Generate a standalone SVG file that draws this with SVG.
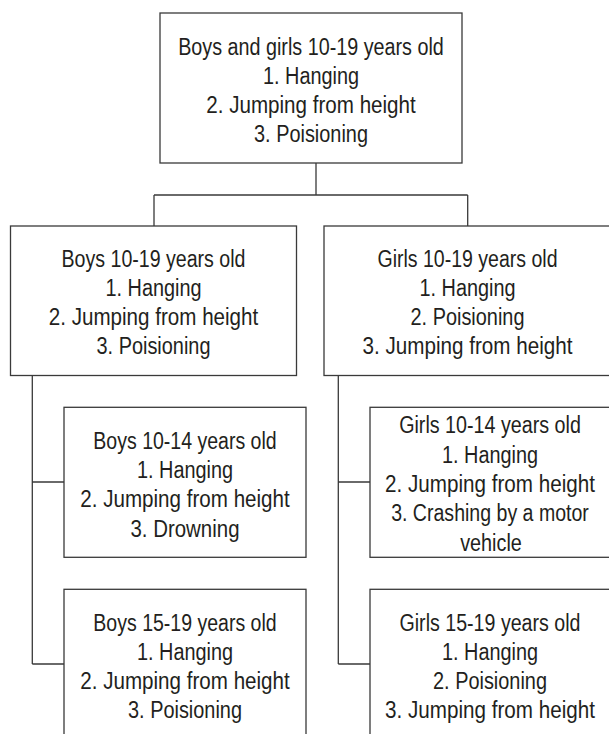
<svg xmlns="http://www.w3.org/2000/svg" width="609" height="734" viewBox="0 0 609 734">
<style>
.box{fill:#ffffff;stroke:#3a3a3a;stroke-width:1.3}
.con{fill:none;stroke:#3a3a3a;stroke-width:1.3}
text{font-family:"Liberation Sans",Arial,sans-serif;font-size:23px;fill:#231f20;text-anchor:middle}
</style>
<rect x="0" y="0" width="609" height="734" fill="#ffffff"/>
<g id="connectors">
<path class="con" d="M316,163 V195 M154,195 H467.7 M154,195 V226 M467.7,195 V226"/>
<path class="con" d="M32.3,375.5 V664 M32.3,482 H64 M32.3,664 H64"/>
<path class="con" d="M338.3,375.5 V664 M338.3,482 H370 M338.3,664 H370"/>
</g>
<g id="node-all">
<rect class="box" x="160" y="13" width="302" height="150"/>
<text x="311" y="55" textLength="265.7" lengthAdjust="spacingAndGlyphs">Boys and girls 10-19 years old</text>
<text x="311" y="84" textLength="96" lengthAdjust="spacingAndGlyphs">1. Hanging</text>
<text x="311" y="113" textLength="209.5" lengthAdjust="spacingAndGlyphs">2. Jumping from height</text>
<text x="311" y="142" textLength="114" lengthAdjust="spacingAndGlyphs">3. Poisioning</text>
</g>
<g id="node-boys-10-19">
<rect class="box" x="10.5" y="226" width="286" height="149.5"/>
<text x="153.5" y="266.7" textLength="184" lengthAdjust="spacingAndGlyphs">Boys 10-19 years old</text>
<text x="153.5" y="295.5" textLength="96" lengthAdjust="spacingAndGlyphs">1. Hanging</text>
<text x="153.5" y="324.5" textLength="209.5" lengthAdjust="spacingAndGlyphs">2. Jumping from height</text>
<text x="153.5" y="353.5" textLength="114" lengthAdjust="spacingAndGlyphs">3. Poisioning</text>
</g>
<g id="node-girls-10-19">
<rect class="box" x="324" y="226" width="295" height="149.5"/>
<text x="467.5" y="266.7" textLength="180" lengthAdjust="spacingAndGlyphs">Girls 10-19 years old</text>
<text x="467.5" y="295.5" textLength="96" lengthAdjust="spacingAndGlyphs">1. Hanging</text>
<text x="467.5" y="324.5" textLength="114" lengthAdjust="spacingAndGlyphs">2. Poisioning</text>
<text x="467.5" y="353.5" textLength="210" lengthAdjust="spacingAndGlyphs">3. Jumping from height</text>
</g>
<g id="node-boys-10-14">
<rect class="box" x="64" y="407.3" width="242" height="150"/>
<text x="185" y="449" textLength="183.3" lengthAdjust="spacingAndGlyphs">Boys 10-14 years old</text>
<text x="185" y="478" textLength="96" lengthAdjust="spacingAndGlyphs">1. Hanging</text>
<text x="185" y="507" textLength="209.5" lengthAdjust="spacingAndGlyphs">2. Jumping from height</text>
<text x="185" y="536.5" textLength="109" lengthAdjust="spacingAndGlyphs">3. Drowning</text>
</g>
<g id="node-boys-15-19">
<rect class="box" x="64" y="589.3" width="242" height="170"/>
<text x="185" y="631" textLength="183.3" lengthAdjust="spacingAndGlyphs">Boys 15-19 years old</text>
<text x="185" y="660" textLength="96" lengthAdjust="spacingAndGlyphs">1. Hanging</text>
<text x="185" y="689" textLength="209.5" lengthAdjust="spacingAndGlyphs">2. Jumping from height</text>
<text x="185" y="718" textLength="114" lengthAdjust="spacingAndGlyphs">3. Poisioning</text>
</g>
<g id="node-girls-10-14">
<rect class="box" x="370" y="407.3" width="250" height="150"/>
<text x="490" y="433" textLength="181.7" lengthAdjust="spacingAndGlyphs">Girls 10-14 years old</text>
<text x="490" y="462.5" textLength="96" lengthAdjust="spacingAndGlyphs">1. Hanging</text>
<text x="490" y="491.5" textLength="210" lengthAdjust="spacingAndGlyphs">2. Jumping from height</text>
<text x="490" y="521" textLength="197.7" lengthAdjust="spacingAndGlyphs">3. Crashing by a motor</text>
<text x="491" y="551" textLength="61.7" lengthAdjust="spacingAndGlyphs">vehicle</text>
</g>
<g id="node-girls-15-19">
<rect class="box" x="370" y="589.3" width="250" height="170"/>
<text x="490" y="631" textLength="181" lengthAdjust="spacingAndGlyphs">Girls 15-19 years old</text>
<text x="490" y="660" textLength="96" lengthAdjust="spacingAndGlyphs">1. Hanging</text>
<text x="490" y="689" textLength="114" lengthAdjust="spacingAndGlyphs">2. Poisioning</text>
<text x="490" y="718" textLength="210" lengthAdjust="spacingAndGlyphs">3. Jumping from height</text>
</g>
</svg>
